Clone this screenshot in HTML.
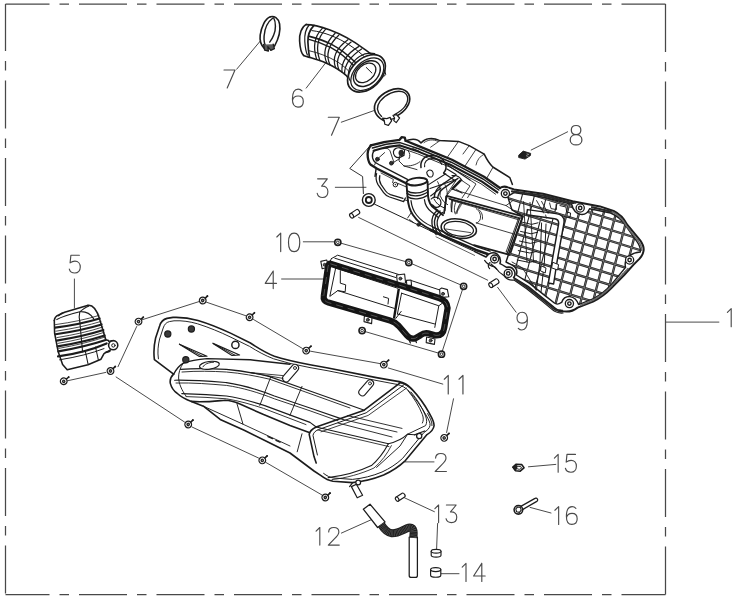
<!DOCTYPE html>
<html><head><meta charset="utf-8"><title>Air cleaner exploded view</title>
<style>
html,body{margin:0;padding:0;background:#fff;}
body{width:748px;height:600px;overflow:hidden;font-family:"Liberation Sans",sans-serif;}
svg{display:block;}
</style></head><body>
<svg width="748" height="600" viewBox="0 0 748 600">
<rect width="748" height="600" fill="#fff"/>
<g fill="none" stroke="#484848" stroke-width="1.25" stroke-dasharray="48 10 9.5 10">
<path d="M5.5 4 H665.5" stroke-dashoffset="4"/>
<path d="M665.5 4 V594.5" stroke-dashoffset="0"/>
<path d="M5.5 594.5 H665.5" stroke-dashoffset="4"/>
<path d="M5.5 4 V594.5" stroke-dashoffset="1"/>
</g>
<g fill="none" stroke="#4a4a4a" stroke-width="1.0" stroke-linecap="round">
<path d="M665.5 322.1 L718.9 322.1"/>
<path d="M405.1 461.9 L434.0 461.9"/>
<path d="M335.3 187.3 L366.0 187.3"/>
<path d="M281.6 279.0 L323.5 279.0"/>
<path d="M74.4 279.0 L74.4 308.0"/>
<path d="M306.2 88.1 L326.3 62.0"/>
<path d="M236.7 69.2 L260.3 41.0"/>
<path d="M341.3 122.2 L374.2 110.5"/>
<path d="M531.2 150.0 L567.6 131.8"/>
<path d="M497.6 287.3 L516.1 312.2"/>
<path d="M303.3 241.8 L334.2 241.8"/>
<path d="M388.3 368.0 L442.8 384.1"/>
<path d="M453.5 398.8 L446.6 432.5"/>
<path d="M341.4 533.1 L372.4 519.2"/>
<path d="M404.5 497.8 L434.4 511.7"/>
<path d="M437.6 523.5 L436.6 549.1"/>
<path d="M440.9 573.7 L459.0 573.7"/>
<path d="M528.5 466.8 L555.8 464.4"/>
<path d="M530.1 507.4 L551.0 513.0"/>
<path d="M358.6 217.4 L487.7 280.2"/>
<path d="M341.0 243.2 L405.6 261.6"/>
<path d="M412.0 263.8 L460.5 284.8"/>
<path d="M462.6 289.2 L442.4 350.8"/>
<path d="M438.2 353.0 L365.2 331.6"/>
<path d="M142.0 319.8 L199.0 301.6"/>
<path d="M206.5 302.2 L246.0 315.8"/>
<path d="M253.5 319.5 L302.5 348.5"/>
<path d="M310.5 351.2 L380.0 363.6"/>
<path d="M136.7 326.5 L118.0 366.7"/>
<path d="M116.1 377.0 L184.5 422.0"/>
<path d="M192.0 427.0 L258.5 458.0"/>
<path d="M266.0 462.5 L322.0 495.0"/>
<path d="M67.4 380.8 L105.8 372.4"/>
</g>
<g fill="none" stroke="#4a4a4a" stroke-width="1.15" stroke-linecap="round" stroke-linejoin="round" vector-effect="non-scaling-stroke">
<path d="M0.5 3.7 L4.3 0 V18" transform="translate(726.9 308.7) scale(1.000 1.000)" />
<path d="M0.4 4.6 C0.4 1.7 2.6 0 5.6 0 C8.8 0 10.8 1.9 10.8 4.6 C10.8 7.1 9.2 8.9 6.2 11.6 L0 18 H11.2" transform="translate(435.2 453.5) scale(1.000 1.000)" />
<path d="M0.4 0 H10.4 L4.6 7.1 C8.4 6.7 11 8.9 11 12.2 C11 15.7 8.8 18 5.5 18 C2.6 18 0.7 16.5 0 14" transform="translate(317.2 178.8) scale(0.973 1.039)" />
<path d="M8.2 0 L0 12.6 H11.6 M8.2 0 V18" transform="translate(265.2 271.0) scale(0.978 0.978)" />
<path d="M10.2 0 H1.6 L0.8 7.8 C2.4 6.5 4 6 5.7 6 C9 6 11.1 8.5 11.1 11.9 C11.1 15.5 8.9 18 5.6 18 C2.7 18 0.7 16.6 0 14" transform="translate(69.3 255.2) scale(0.989 0.989)" />
<path d="M9.8 1.7 C8.7 0.5 7.4 0 6 0 C2.3 0 0.2 3.9 0.2 10 C0.2 15 2.1 18 5.7 18 C8.9 18 11.1 15.7 11.1 12.3 C11.1 9 9 6.9 5.9 6.9 C3 6.9 0.8 8.6 0.3 11.2" transform="translate(292.2 89.1) scale(1.000 1.000)" />
<path d="M0 0 H11 L3.2 18" transform="translate(224.0 70.0) scale(1.000 1.000)" />
<path d="M0 0 H11 L3.2 18" transform="translate(328.3 117.2) scale(1.000 1.000)" />
<path d="M5.6 0 C3 0 1.2 1.8 1.2 4.2 C1.2 6.7 3 8.5 5.6 8.5 C8.2 8.5 10 6.7 10 4.2 C10 1.8 8.2 0 5.6 0 Z M5.6 8.5 C2.4 8.5 0.2 10.5 0.2 13.3 C0.2 16 2.4 18 5.6 18 C8.8 18 11 16 11 13.3 C11 10.5 8.8 8.5 5.6 8.5 Z" transform="translate(570.0 125.5) scale(1.083 1.083)" />
<path d="M1.4 16.3 C2.5 17.5 3.8 18 5.2 18 C8.9 18 11 14.1 11 8 C11 3 9.1 0 5.5 0 C2.3 0 0.1 2.3 0.1 5.7 C0.1 9 2.2 11.1 5.3 11.1 C8.2 11.1 10.4 9.4 10.9 6.8" transform="translate(516.9 312.2) scale(0.955 0.989)" />
<path d="M0.5 3.7 L4.3 0 V18" transform="translate(276.3 233.2) scale(1.022 1.022)" />
<path d="M5.7 0 C2.3 0 0.2 3.6 0.2 9 C0.2 14.4 2.3 18 5.7 18 C9.1 18 11.2 14.4 11.2 9 C11.2 3.6 9.1 0 5.7 0 Z" transform="translate(288.3 233.2) scale(1.022 1.022)" />
<path d="M0.5 3.7 L4.3 0 V18" transform="translate(443.8 375.4) scale(1.033 1.033)" />
<path d="M0.5 3.7 L4.3 0 V18" transform="translate(458.5 375.4) scale(1.033 1.033)" />
<path d="M0.5 3.7 L4.3 0 V18" transform="translate(315.6 527.5) scale(0.978 0.978)" />
<path d="M0.4 4.6 C0.4 1.7 2.6 0 5.6 0 C8.8 0 10.8 1.9 10.8 4.6 C10.8 7.1 9.2 8.9 6.2 11.6 L0 18 H11.2" transform="translate(328.3 527.5) scale(0.978 0.978)" />
<path d="M0.5 3.7 L4.3 0 V18" transform="translate(434.4 505.0) scale(0.978 0.978)" />
<path d="M0.4 0 H10.4 L4.6 7.1 C8.4 6.7 11 8.9 11 12.2 C11 15.7 8.8 18 5.5 18 C2.6 18 0.7 16.5 0 14" transform="translate(446.0 505.0) scale(0.978 0.978)" />
<path d="M0.5 3.7 L4.3 0 V18" transform="translate(461.7 563.4) scale(1.000 1.000)" />
<path d="M8.2 0 L0 12.6 H11.6 M8.2 0 V18" transform="translate(473.6 563.4) scale(1.000 1.000)" />
<path d="M0.5 3.7 L4.3 0 V18" transform="translate(553.9 454.4) scale(0.989 0.989)" />
<path d="M10.2 0 H1.6 L0.8 7.8 C2.4 6.5 4 6 5.7 6 C9 6 11.1 8.5 11.1 11.9 C11.1 15.5 8.9 18 5.6 18 C2.7 18 0.7 16.6 0 14" transform="translate(565.4 454.4) scale(0.989 0.989)" />
<path d="M0.5 3.7 L4.3 0 V18" transform="translate(554.4 506.6) scale(0.989 0.989)" />
<path d="M9.8 1.7 C8.7 0.5 7.4 0 6 0 C2.3 0 0.2 3.9 0.2 10 C0.2 15 2.1 18 5.7 18 C8.9 18 11.1 15.7 11.1 12.3 C11.1 9 9 6.9 5.9 6.9 C3 6.9 0.8 8.6 0.3 11.2" transform="translate(566.2 506.6) scale(0.989 0.989)" />
</g>
<g transform="translate(337.8 242.3)"><circle r="3.1" fill="#fff" stroke="#1c1c1c" stroke-width="1.6"/><circle r="1.3" fill="none" stroke="#1c1c1c" stroke-width="0.9"/></g>
<g transform="translate(408.8 262.5)"><circle r="3.1" fill="#fff" stroke="#1c1c1c" stroke-width="1.6"/><circle r="1.3" fill="none" stroke="#1c1c1c" stroke-width="0.9"/></g>
<g transform="translate(463.6 286.3)"><circle r="3.1" fill="#fff" stroke="#1c1c1c" stroke-width="1.6"/><circle r="1.3" fill="none" stroke="#1c1c1c" stroke-width="0.9"/></g>
<g transform="translate(362.1 330.6)"><circle r="3.1" fill="#fff" stroke="#1c1c1c" stroke-width="1.6"/><circle r="1.3" fill="none" stroke="#1c1c1c" stroke-width="0.9"/></g>
<g transform="translate(441.5 354.2)"><circle r="3.1" fill="#fff" stroke="#1c1c1c" stroke-width="1.6"/><circle r="1.3" fill="none" stroke="#1c1c1c" stroke-width="0.9"/></g>
<g transform="translate(138.5 321.6) rotate(-43)"><path d="M2.5 0 H6.3" stroke="#1c1c1c" stroke-width="1.6" stroke-linecap="round"/><circle cx="6.6" cy="0" r="0.9" fill="#1c1c1c" stroke="none"/><circle r="3.3" fill="#fff" stroke="#1c1c1c" stroke-width="1.3"/><circle r="1.8" fill="#262626" stroke="none"/><circle r="0.5" fill="#bbb" stroke="none"/></g>
<g transform="translate(202.7 300.5) rotate(-43)"><path d="M2.5 0 H6.3" stroke="#1c1c1c" stroke-width="1.6" stroke-linecap="round"/><circle cx="6.6" cy="0" r="0.9" fill="#1c1c1c" stroke="none"/><circle r="3.3" fill="#fff" stroke="#1c1c1c" stroke-width="1.3"/><circle r="1.8" fill="#262626" stroke="none"/><circle r="0.5" fill="#bbb" stroke="none"/></g>
<g transform="translate(249.6 317.3) rotate(-43)"><path d="M2.5 0 H6.3" stroke="#1c1c1c" stroke-width="1.6" stroke-linecap="round"/><circle cx="6.6" cy="0" r="0.9" fill="#1c1c1c" stroke="none"/><circle r="3.3" fill="#fff" stroke="#1c1c1c" stroke-width="1.3"/><circle r="1.8" fill="#262626" stroke="none"/><circle r="0.5" fill="#bbb" stroke="none"/></g>
<g transform="translate(306.2 350.6) rotate(-43)"><path d="M2.5 0 H6.3" stroke="#1c1c1c" stroke-width="1.6" stroke-linecap="round"/><circle cx="6.6" cy="0" r="0.9" fill="#1c1c1c" stroke="none"/><circle r="3.3" fill="#fff" stroke="#1c1c1c" stroke-width="1.3"/><circle r="1.8" fill="#262626" stroke="none"/><circle r="0.5" fill="#bbb" stroke="none"/></g>
<g transform="translate(383.8 364.6) rotate(-43)"><path d="M2.5 0 H6.3" stroke="#1c1c1c" stroke-width="1.6" stroke-linecap="round"/><circle cx="6.6" cy="0" r="0.9" fill="#1c1c1c" stroke="none"/><circle r="3.3" fill="#fff" stroke="#1c1c1c" stroke-width="1.3"/><circle r="1.8" fill="#262626" stroke="none"/><circle r="0.5" fill="#bbb" stroke="none"/></g>
<g transform="translate(188.2 424.5) rotate(-43)"><path d="M2.5 0 H6.3" stroke="#1c1c1c" stroke-width="1.6" stroke-linecap="round"/><circle cx="6.6" cy="0" r="0.9" fill="#1c1c1c" stroke="none"/><circle r="3.3" fill="#fff" stroke="#1c1c1c" stroke-width="1.3"/><circle r="1.8" fill="#262626" stroke="none"/><circle r="0.5" fill="#bbb" stroke="none"/></g>
<g transform="translate(262.3 460.4) rotate(-43)"><path d="M2.5 0 H6.3" stroke="#1c1c1c" stroke-width="1.6" stroke-linecap="round"/><circle cx="6.6" cy="0" r="0.9" fill="#1c1c1c" stroke="none"/><circle r="3.3" fill="#fff" stroke="#1c1c1c" stroke-width="1.3"/><circle r="1.8" fill="#262626" stroke="none"/><circle r="0.5" fill="#bbb" stroke="none"/></g>
<g transform="translate(325.3 497.5) rotate(-43)"><path d="M2.5 0 H6.3" stroke="#1c1c1c" stroke-width="1.6" stroke-linecap="round"/><circle cx="6.6" cy="0" r="0.9" fill="#1c1c1c" stroke="none"/><circle r="3.3" fill="#fff" stroke="#1c1c1c" stroke-width="1.3"/><circle r="1.8" fill="#262626" stroke="none"/><circle r="0.5" fill="#bbb" stroke="none"/></g>
<g transform="translate(444.2 437.9) rotate(-43)"><path d="M2.5 0 H6.3" stroke="#1c1c1c" stroke-width="1.6" stroke-linecap="round"/><circle cx="6.6" cy="0" r="0.9" fill="#1c1c1c" stroke="none"/><circle r="3.3" fill="#fff" stroke="#1c1c1c" stroke-width="1.3"/><circle r="1.8" fill="#262626" stroke="none"/><circle r="0.5" fill="#bbb" stroke="none"/></g>
<g transform="translate(110.5 371.0) rotate(-43)"><path d="M2.5 0 H6.3" stroke="#1c1c1c" stroke-width="1.6" stroke-linecap="round"/><circle cx="6.6" cy="0" r="0.9" fill="#1c1c1c" stroke="none"/><circle r="3.3" fill="#fff" stroke="#1c1c1c" stroke-width="1.3"/><circle r="1.8" fill="#262626" stroke="none"/><circle r="0.5" fill="#bbb" stroke="none"/></g>
<g transform="translate(63.7 381.3) rotate(-40)"><path d="M2.5 0 H6.3" stroke="#1c1c1c" stroke-width="1.6" stroke-linecap="round"/><circle cx="6.6" cy="0" r="0.9" fill="#1c1c1c" stroke="none"/><circle r="3.3" fill="#fff" stroke="#1c1c1c" stroke-width="1.3"/><circle r="1.8" fill="#262626" stroke="none"/><circle r="0.5" fill="#bbb" stroke="none"/></g>
<g fill="none" stroke="#1c1c1c" stroke-linecap="round" stroke-linejoin="round" stroke-width="1.45">
<path d="M270.4 16.8 C265 18.6 261.4 27 260.2 35 C259.6 40 260.6 44.6 264.1 48.1" stroke-width="1.6"/>
<path d="M272.9 18 C268 21.6 264.6 29 264.1 36 C263.8 40.6 264.4 44 265.7 46.1"/>
<path d="M270.4 16.8 C274 15.6 278.4 18 279.6 24 C280.6 30 279 38 274.5 46.1" stroke-width="1.6"/>
<path d="M273.7 18 C276 22 276 30 273.7 35 C272.6 38 271.4 40 269.7 42.1"/>
<path d="M263.6 44.5 L264.6 50.2 L268.4 51.2 L267.8 46.6 L270.8 50.4 L274.4 48.6 L273.2 44.2" stroke-width="1.3" fill="#5a5a5a"/>
</g>
<g fill="none" stroke="#1c1c1c" stroke-linecap="round" stroke-linejoin="round" stroke-width="1.7">
<path d="M383.6 120.6 C375.5 116.5 371.5 108.5 376.8 100.6 C382.5 92 394.5 87 402.2 89.2 C410 91.5 412.2 99.6 406.6 107.6 C404.5 110.8 401 113.6 396.6 116"/>
<path d="M381.6 116.4 C376.6 112 376.2 106.6 380.2 101.2 C385.6 94 395.6 90 402 91.6 C408 93.2 409.6 99.6 405.2 106 C403.4 108.8 400 111.6 394.6 114.6" stroke-width="1.35"/>
<path d="M382.4 118.2 L386.8 118.6 L390.2 117.4 L391.6 120.8 L388.4 125.4 L384.8 124.2 L384.2 120.2 Z" fill="#fff" stroke-width="1.2"/>
<path d="M393 115.4 L396.4 114.6 L399.6 118 L396.2 122.6 L393.8 120.6 L394.6 118 Z" fill="#fff" stroke-width="1.2"/>
<path d="M390.8 119.4 L393.8 118.6" stroke-width="1.1"/>
</g>
<g fill="none" stroke="#1c1c1c" stroke-linecap="round" stroke-linejoin="round" stroke-width="1.2">
<path d="M306.2 24.6 C312 24.6 320 26.4 330 30 C342 34.4 354 41.4 364 48.8 C368 51.8 371.5 54.2 374.6 56.6" stroke-width="1.6"/>
<path d="M303.6 55.4 C309 57.4 318 59.6 326 63 C334 66.4 341 71 346.4 75.6 L349.6 80.4" stroke-width="1.6"/>
<path d="M306.2 24.4 C301.5 27 299.2 34 299.6 41 C300 48 301.5 53.5 303.6 55.4" stroke-width="1.6"/>
<path d="M309.2 25 C305.5 29 304.4 35 304.8 41.5 C305.2 47.6 306.2 52.4 307.4 55" stroke-width="1.2"/>
<path d="M314 25.4 C309.6 30 307.6 36 307.9 42 C308.2 48.6 308.8 53.4 309.4 57" stroke-width="1.7"/>
<path d="M322.3 28.4 Q310.5 40.3 316.7 59.4" stroke-width="1.25"/>
<path d="M325.5 29.4 Q313.3 42.4 319.9 60.6" stroke-width="1.25"/>
<path d="M335.1 33.2 Q319.9 48.6 327.1 63.6" stroke-width="1.25"/>
<path d="M338.7 35.2 Q322.9 50.0 330.2 65.2" stroke-width="1.25"/>
<path d="M347.9 39.7 Q330.0 52.8 335.6 67.8" stroke-width="1.25"/>
<path d="M351.1 42.1 Q333.2 55.6 338.8 69.6" stroke-width="1.25"/>
<path d="M358.6 46.6 Q340.5 57.5 342.0 72.0" stroke-width="1.25"/>
<path d="M361.6 49.0 Q344.1 60.4 344.6 74.2" stroke-width="1.25"/>
<path d="M309.4 36.4 C318 38.6 325 41 332 44.6 C340 48.8 348 55 356 63" stroke-width="1.6"/>
<path d="M309 39.4 C317 41.4 324 44 331 47.6 C339 52 346.5 58 353.6 65.6" stroke-width="1.4"/>
<path d="M312 30.6 C324 32 338 37.4 350 45.4 C356 49.4 361 53.4 365 57.4" stroke-width="1.0"/>
<path d="M308.6 50.6 C318 52.6 328 56.4 337 61.6 C341 64 345 67.2 348 70.4" stroke-width="0.9"/>
<ellipse cx="366.4" cy="73.8" rx="22" ry="14.9" transform="rotate(-44 365.9 73.5)" fill="#fff" stroke-width="1.7"/>
<path d="M349.8 80.2 C346 72 350.5 62.5 359.5 56.5 C364 53.6 369.4 52.4 374.8 53.6" stroke-width="1.1"/>
<ellipse cx="367.3" cy="74.2" rx="19.4" ry="12.7" transform="rotate(-44 367.3 74.2)" stroke-width="1.25"/>
<ellipse cx="366.9" cy="73.6" rx="15.3" ry="10.6" transform="rotate(-42 366.9 73.6)" stroke-width="1.45"/>
<ellipse cx="365.7" cy="72.9" rx="11.7" ry="7.9" transform="rotate(-42 365.7 72.9)" stroke-width="1.2"/>
<path d="M366.3 67.5 L371.9 73" stroke-width="1.0"/>
<path d="M383.6 76.6 L385.8 74.6 L384.6 70.2" stroke-width="1.0"/>
</g>
<g fill="none" stroke="#1c1c1c" stroke-linecap="round" stroke-linejoin="round" stroke-width="1.2">
<path d="M54.3 320.5 C54.6 317.5 56 316 58.6 315 L64.6 312.2 L87.4 305.4 C90 304.8 92.2 305.6 94.6 308.4 C97 311.4 98.4 314.8 99.4 318.4 L105.8 339.8 L108.4 340.6" stroke-width="1.6"/>
<path d="M54.3 320.5 L54.6 333 L58.2 351.8 L62.6 364.6 L67.2 369.8 L88 364.8 L101 359.2 L104 353.6 L110.4 350" stroke-width="1.55"/>
<circle cx="113.2" cy="345.2" r="4.6" fill="#fff" stroke-width="1.55"/><circle cx="113.4" cy="345.4" r="1.7" stroke-width="1.0"/>
<path d="M108.6 341.4 L112.4 340.6 M106.4 352.2 L110 351.4" stroke-width="1.2"/>
<path d="M58.6 315.8 L62.4 312.8 M56.8 319.6 C62 316.6 70 314.2 79.8 311.8 C83 309 86 307 88.6 306.2 M79.8 311.8 C79 315 79 318 79.8 321.6 M80.4 311.6 C85 311.4 90.5 313.6 93.6 318.6" stroke-width="1.1"/>
<path d="M55.2 327.6 Q81.0 324.1 99.6 318.4" stroke-width="2.1"/>
<path d="M55.5 324.6 Q81.0 321.1 99.0 315.4" stroke-width="0.8"/>
<path d="M55.6 334.2 Q82.3 330.3 101.6 324.4" stroke-width="2.1"/>
<path d="M55.9 331.2 Q82.3 327.3 101.0 321.4" stroke-width="0.8"/>
<path d="M56.6 340.6 Q83.7 336.3 103.4 330.0" stroke-width="2.1"/>
<path d="M56.9 337.6 Q83.7 333.3 102.8 327.0" stroke-width="0.8"/>
<path d="M57.6 346.4 Q84.9 341.8 104.6 335.4" stroke-width="2.1"/>
<path d="M57.9 343.4 Q84.9 338.8 104.0 332.4" stroke-width="0.8"/>
<path d="M58.4 351.4 Q85.8 346.6 105.6 340.0" stroke-width="2.1"/>
<path d="M58.7 348.4 Q85.8 343.6 105.0 337.0" stroke-width="0.8"/>
<path d="M58 356.4 Q86 352.4 106.6 343.4" stroke-width="2.2"/>
<path d="M59.6 359.8 Q86 355.6 104 348.6" stroke-width="1.0"/>
<path d="M85.2 350.6 L88 363.8 M95.5 347 L98.3 359.6 M79.8 321.6 L82.6 352" stroke-width="1.05"/>
<path d="M105.2 352.4 L109 351.6" stroke-width="1.2"/>
</g>
<g fill="none" stroke="#1c1c1c" stroke-linecap="round" stroke-linejoin="round" stroke-width="1.15">
<g transform="translate(354.6 213.8) rotate(-33)"><path d="M-3.6 -2.5 H3.8 A1.6 2.5 0 0 1 3.8 2.5 H-3.6" fill="#fff"/><ellipse cx="-3.6" cy="0" rx="1.7" ry="2.5" fill="#fff"/></g>
<g transform="translate(493.8 283.2) rotate(-33)"><path d="M-3.6 -2.5 H3.8 A1.6 2.5 0 0 1 3.8 2.5 H-3.6" fill="#fff"/><ellipse cx="-3.6" cy="0" rx="1.7" ry="2.5" fill="#fff"/></g>
<g transform="translate(400.2 497.2) rotate(-33)"><path d="M-3.6 -2.3 H3.8 A1.4 2.3 0 0 1 3.8 2.3 H-3.6" fill="#fff"/><ellipse cx="-3.6" cy="0" rx="1.5" ry="2.3" fill="#fff"/></g>
<path d="M518.9 155 L523.2 151.1 L530.7 153.4 L530.4 155.6 L525 159.1 L519 157.6 Z" fill="#1e1e1e" stroke-width="0.9"/>
<path d="M527 154 L528.6 154.4 M526.4 155.8 L527.8 156.2" stroke="#ccc" stroke-width="0.7"/>
<path d="M431.2 551.2 V555.2 A4.9 1.9 0 0 0 441 555.2 V551.2" fill="#fff"/><ellipse cx="436.1" cy="551.2" rx="4.9" ry="1.9" fill="#fff"/>
<path d="M430.6 569.6 V575.2 A5.1 2 0 0 0 440.8 575.2 V569.6" fill="#fff"/><ellipse cx="435.7" cy="569.6" rx="5.1" ry="2" fill="#fff"/>
<path d="M512.8 467 L516.2 464.2 L521.8 464.6 L524 467.8 L520.2 471.2 L515.6 470.8 Z" fill="#fff" stroke-width="1.6"/>
<path d="M517.2 466.2 L520.8 466.6 L521.6 468.2 L519.2 469.4 L516.8 468.6 Z" stroke-width="0.9"/>
<path d="M513 467 L516.2 464.6 L517 466.4 L516.6 469 L515.4 470.4 Z" fill="#222" stroke-width="0.8"/>
<path d="M520.8 506.4 L535 498.4 A1.7 1.7 0 0 1 536.8 501.4 L522.6 509.6" fill="#fff" stroke-width="1.25"/>
<circle cx="518.4" cy="509.8" r="4.3" fill="#fff" stroke-width="1.55"/><path d="M515.8 508.8 L517.6 507 L520.4 507.4 L521.2 510.2 L519.4 512.4 L516.6 511.8 Z" stroke-width="1.1"/>
<path d="M363.3 509.2 L370 504.2 L385 521.9 L377.6 527.5 Z" fill="#fff" stroke-width="1.25"/>
<path d="M409.2 537 V575.4 Q409.2 577.4 411.2 577.4 H415.4 Q417.4 577.4 417.4 575.4 V537" fill="#fff" stroke-width="1.25"/>
<path d="M381.2 524.6 C384 529 387 532.6 391.7 533.2 C396 533.6 400 531.6 403.3 530 C406.6 528.4 410 526.4 412.4 528.6 C414.4 530.6 413.5 534 413.3 538" stroke="#1f1f1f" stroke-width="8.2" stroke-linecap="butt"/>
<path d="M381.2 524.6 C384 529 387 532.6 391.7 533.2 C396 533.6 400 531.6 403.3 530 C406.6 528.4 410 526.4 412.4 528.6 C414.4 530.6 413.5 534 413.3 538" stroke="#777" stroke-width="6.2" stroke-linecap="butt" stroke-dasharray="0.35 1.15"/>
<path d="M351.4 486.6 L356.4 484.2 L362.6 495.2 L357.2 497.8 Z" fill="#fff" stroke-width="1.2"/>
</g>
<g fill="none" stroke="#1c1c1c" stroke-linecap="round" stroke-linejoin="round" stroke-width="1.0">
<path d="M331.4 258.6 L337.6 255.2 L399 274.6 M334.8 258.2 L396 277.6 M331.4 258.6 L329.8 262" />
<path d="M411.4 280.6 L440.4 290.2" />
<path d="M335.6 268.4 L329.8 296.4 L337.8 290.6 L394.4 308.4 M340.3 270.6 L340.3 283.2 L345.7 284.8 L345.2 291.8 L337.8 290.6 M334.8 267.8 L397.6 288.2"/>
<path d="M383.4 296.8 L388.6 298.4 L388 304 "/>
<path d="M401.6 293.2 L438.8 305.8 L434.8 327.4 M397.4 314 L434.8 324 M401.6 293.2 L397.4 314 M438.8 305.8 L442.6 303"/>
<path d="M395.8 318.4 L401.2 311.4" />
<path d="M320.8 261.4 L326.8 260.0 L328.4 267.0 L322.2 268.8 Z" fill="#fff" stroke-width="1.1"/>
<circle cx="324.7" cy="264.8" r="1.5" fill="#555" stroke-width="0.8"/>
<path d="M396.6 275.0 L404.6 274.0 L405.6 283.0 L397.4 283.6 Z" fill="#fff" stroke-width="1.1"/>
<circle cx="400.4" cy="278.6" r="1.5" fill="#555" stroke-width="0.8"/>
<path d="M406.4 280.4 L411.0 280.0 L411.6 285.4 L406.8 285.0 Z" fill="#fff" stroke-width="1.1"/>
<path d="M439.6 289.4 L441.6 288.0 L447.4 289.6 L448.8 296.8 L440.2 297.6 Z" fill="#fff" stroke-width="1.1"/>
<circle cx="443" cy="293.8" r="1.5" fill="#555" stroke-width="0.8"/>
<path d="M364.4 315.6 L372.0 317.8 L371.6 323.6 L364.0 321.6 Z" fill="#fff" stroke-width="1.1"/>
<circle cx="367.8" cy="319.8" r="1.5" fill="#555" stroke-width="0.8"/>
<path d="M426.6 337.0 L435.0 339.0 L434.4 344.4 L426.2 342.6 Z" fill="#fff" stroke-width="1.1"/>
<circle cx="430.6" cy="340.6" r="1.5" fill="#555" stroke-width="0.8"/>
<path d="M409 339.6 L410.4 343 M415 339.2 L416.4 342.6" stroke-width="1.2"/>
</g>
<path d="M330.4 263.8 L397 284.4 L439 298 Q447.2 300.8 447.6 308 L444.2 328 Q443 335.8 436 335.4 L428 333.2 Q424 332.4 420.6 335.2 L415.4 338.2 Q410.6 339.8 407 335.6 L398.8 326 Q395 322 390 320.6 L328.4 302.6 Q322.8 300.8 323.8 295.6 L327.8 268 Q328.6 262.8 330.4 263.8 Z" fill="none" stroke="#151515" stroke-width="6.2" stroke-linejoin="round"/>
<path d="M330.4 263.8 L397 284.4 L439 298 Q447.2 300.8 447.6 308 L444.2 328 Q443 335.8 436 335.4 L428 333.2 Q424 332.4 420.6 335.2 L415.4 338.2 Q410.6 339.8 407 335.6 L398.8 326 Q395 322 390 320.6 L328.4 302.6 Q322.8 300.8 323.8 295.6 L327.8 268 Q328.6 262.8 330.4 263.8 Z" fill="none" stroke="#777" stroke-width="0.6" stroke-linejoin="round" stroke-dasharray="7 5"/>
<path d="M398.8 288.6 L394 318.6" fill="none" stroke="#151515" stroke-width="2.4"/>
<g fill="none" stroke="#1c1c1c" stroke-linecap="round" stroke-linejoin="round" stroke-width="1.25">
<path d="M173.6 374.2 L154.4 359.6 C153.4 352 154 345 155.6 338 L159.6 326 C160.8 322 163 319.4 167 318.4 L173 317.4 C182 317 190 318.2 198 320.4 C210 324 221 328.6 231 333.4 L250.4 343 C258 348 266 353 274.4 356.2 C286 360 298 362.4 310 364.8 L328 368 L376.4 377.6 L399 381.6" stroke-width="1.6"/>
<path d="M158.4 358.8 C157.4 352 158 345.6 159.6 339 L163.2 328 C164.4 324.6 166 322.4 169.4 321.6 L174 320.8 C182 320.4 190 321.6 197.6 323.8 C209 327.4 220 332 230 336.8 L249.6 346.4 C257 351 265 355.6 273.6 358.8 L290 363.4" stroke-width="0.95"/>
<path d="M290 363.4 L310 367.6 L328 370.8 L376 380.4 L397 384.4" stroke-width="0.95"/>
<path d="M399 381.6 C404 382.6 408 385 411.4 388.6 C418 395.6 424 403.6 429 412.6 C432 418 434.6 422 434 426 C433.4 430 430.6 432.4 427 434.6 L405.4 460.6 C399 466.6 391.6 471.4 383.6 475 C373.6 479 363 481.6 352.4 482.6 L333 481.2 C328.8 480.6 325 478.6 321 475.6 L314 471 L290 453 L268.4 442.2 L244.2 430.2 L220.2 419.4 L203.4 406.2 L191.4 401.4" stroke-width="1.6"/>
<path d="M397 384.4 C402 385.4 406 388 409 391.2 C415 398 421 406 426 415 C428.6 419.6 430.6 423 430 425.6 C429.4 428.6 427 430.6 424 432.4 L402.6 458.4 C396.6 464 389.6 468.6 382 472 C372.6 476 362.6 478.4 352.4 479.4 L334 478 C330 477.6 327 476 323.6 473.4" stroke-width="1.0"/>
<path d="M400.6 383 C405 384 408.6 386.6 412 390 M427.6 413.6 C430 418 432.4 422 432 425.6" stroke-width="0.95"/>
<path d="M173.6 374.2 C170.6 377 169.6 380 170.4 383.6 C171.6 388 174 391 176.8 393 C181 397 186 399.6 191.4 401.4 C203 402.6 214 401.2 225 400.2 C230 400.2 235 401.8 239.4 403.8 L263.6 414.6 L290 425.4 L309.2 432.6" stroke-width="1.6"/>
<path d="M173.6 374.2 C176 369.6 179 365.8 183 363.4 C190 360.6 198 359.2 207 358.6 L250.4 359.8 L290 364.2" stroke-width="1.4"/>
<path d="M183 363.4 C180 368 178.4 373 178.6 378 C179 384 181.6 390 186 396" stroke-width="0.95"/>
<path d="M180.6 369.4 C196 368.2 211 368.6 226.4 369.4 C241 370.6 256 373.4 269.6 376.6 L310 391 L364.4 410.2" stroke-width="1.15"/>
<path d="M182 372 C197 370.8 212 371.2 226.4 372 C241 373.2 256 376 269.6 379.2 L310 393.6 L350 408" stroke-width="0.9"/>
<path d="M174.6 380.2 C192 379.8 209 381.2 226.4 382.6 C243 385 259 390 274.4 396 L310 408 L343 419.4" stroke-width="1.15"/>
<path d="M176 383 C193 382.6 210 384 226.4 385.4 C243 387.8 259 392.8 274.4 398.8 L310 410.8 L338 420.8" stroke-width="0.9"/>
<path d="M181.8 393.6 C196 394 211 394.6 226.4 396 C240 398 252 401.6 264.8 405.6 L310 422.4 L316.2 427" stroke-width="1.15"/>
<path d="M186 396.6 C199 397 213 397.6 226.4 398.8 C239 400.8 251 404.4 263.6 408.4 L306 424.6" stroke-width="0.9"/>
<path d="M270.8 376.8 L259.8 405.4 M302 386.4 L290 415.2 M237 403.8 L243 424.2 L203.4 406.2 M302 433.8 L297.2 451.8" stroke-width="0.95"/>
<path d="M243 424.2 L290 446" stroke-width="0.9"/>
<path d="M268 436.6 L272.6 438.6 M276 440.4 L280 442.2" stroke-width="1.4"/>
<circle cx="167.8" cy="334" r="3.1" fill="#3a3a3a" stroke-width="1.15"/>
<circle cx="191.4" cy="329" r="3.1" fill="#3a3a3a" stroke-width="1.15"/>
<circle cx="185.8" cy="359.8" r="3.1" fill="#3a3a3a" stroke-width="1.15"/>
<circle cx="235.4" cy="344.9" r="3.6" fill="#fff" stroke-width="1.45"/>
<path d="M179.4 344.2 L207 356.2 L199.4 356.4 Z M213 343.4 L239.6 355 L232 355.4 Z" fill="#fff" stroke-width="1.15"/>
<path d="M179.4 344.2 L202.6 356.4 M213 343.4 L235 355.2" stroke-width="0.95"/>
<ellipse cx="209.4" cy="365.3" rx="10" ry="3.8" transform="rotate(-8 209.4 365.3)" fill="#fff" stroke-width="1.15"/>
<path d="M203 366.8 C204.6 364 208 362.6 213.6 362.2" stroke-width="0.95"/>
<path d="M295 368 L286.2 378.2" stroke="#1c1c1c" stroke-width="8.2" stroke-linecap="round"/>
<path d="M295 368 L286.2 378.2" stroke="#fff" stroke-width="6.0" stroke-linecap="round"/>
<circle cx="295" cy="368" r="1.5" fill="#fff" stroke-width="0.9"/>
<path d="M370 383.4 L362.4 392.2" stroke="#1c1c1c" stroke-width="8.2" stroke-linecap="round"/>
<path d="M370 383.4 L362.4 392.2" stroke="#fff" stroke-width="6.0" stroke-linecap="round"/>
<circle cx="370" cy="383.4" r="1.5" fill="#fff" stroke-width="0.9"/>
<path d="M250.6 372.6 L283 375.6 M250.6 372.6 L283 378.4" stroke-width="0.85"/>
<path d="M400.4 382.6 L364.2 410.2 L316.2 427 C312 429 309.6 431.6 309.2 434.4 L314 456.6 L316.2 463" stroke-width="1.6"/>
<path d="M403.6 385 L366.2 412.8 L318.4 429.6 C315 431 313.2 433.2 313 435.6 L317.4 455" stroke-width="1.0"/>
<path d="M406.6 388 L368.2 415.4 L321 431.8" stroke-width="0.85"/>
<path d="M316.2 427 L388.4 443.8 C396 442 403 438.6 407.6 434.2 L414.4 434.8" stroke-width="1.15"/>
<path d="M318 430 L389 446.6" stroke-width="0.85"/>
<path d="M388.4 443.8 C384 452 378.6 459.6 371.4 465.6 C358 472 343 476 328.2 477.6" stroke-width="1.15"/>
<path d="M391.4 445.6 C387 454 381.6 461.6 374 468 C361 474 346 478 332 479.6" stroke-width="0.85"/>
<path d="M343.4 419.6 L397 432 M347.6 415.6 L402 428.4 M338 423 L392 437" stroke-width="0.9"/>
<path d="M411 392 C417 399 422 407 425.6 416 C427 420 427 423 425.6 425.6 L407.6 434.2 M408 390.6 C414 398 419 406 422.4 414.6 C423.6 418 423.6 420.6 422.4 423" stroke-width="0.95"/>
<path d="M407.6 434.2 L400 446 L376.6 467.4" stroke-width="0.95"/>
<circle cx="419.2" cy="436" r="2.6" fill="#fff" stroke-width="1.25"/><path d="M414.6 434.8 L424.6 431" stroke-width="1.25"/>
<circle cx="358.2" cy="482.4" r="2.4" fill="#fff" stroke-width="1.25"/><path d="M352.6 482.6 L349.6 486.6" stroke-width="1.25"/>
</g>
<g fill="none" stroke="#1c1c1c" stroke-linecap="round" stroke-linejoin="round" stroke-width="1.1">
<path d="M370.7 145.2 L349.8 168.5 L362.6 176.5 L363.4 193.6" stroke-width="0.9"/>
<circle cx="368.8" cy="200" r="6.4" fill="#fff" stroke-width="1.4"/><circle cx="368.8" cy="200" r="3.0" fill="#fff" stroke-width="1.8"/>
<path d="M405.2 141 C412 138.4 418 139 421 143 C425 138.4 432 137.2 439.4 140.4 L458.5 141.4 L469.2 145.6 L484.2 154.2 C487 160 489.6 164 492.8 167 L509.8 177.6 L512.4 184.4" stroke-width="1.5"/>
<path d="M424 142.6 C428 139.6 433 139 438 141.4 M440 140.6 L430.6 147.2" stroke-width="0.8"/>
<path d="M458.5 141.4 L447.8 156.6 M475.6 150 L465 166 M492.8 167.6 L486.4 178.8 M469.2 145.6 L463 154" stroke-width="0.85"/>
<path d="M484.2 154.2 C480 156 477 160 476 165" stroke-width="0.8"/>
<path d="M370.8 145.4 C380 142.6 391 140.6 399.6 139.8 L401.6 137.2 L404.8 137.6 L405.6 140.8 L420 146.6 L452 159.8 L484 176.8 L500 188" stroke-width="2.3"/>
<path d="M372.4 148 C381 145.2 391 143.2 400 142.6 L419.2 149 L451.2 162.2 L483 179 L498.8 190" stroke-width="1.5"/>
<path d="M373.6 150.8 C382 148 391 146 400 145.4 L418.4 151.6 L450.4 164.8 L482 181.6 L497.4 192.4" stroke-width="2.1"/>
<path d="M399 147.4 L417.6 153.8 L449.6 167 L481 183.8 L495.6 194.2" stroke-width="0.9"/>
<path d="M370.8 145.4 C368 149 367.2 153.4 367.8 157.4 C368.4 161 369.4 163.6 370.8 164.8 L377.2 168.8 L406 183.2" stroke-width="2.3"/>
<path d="M374.2 150.4 C372.4 153 372 155.6 372.6 158 C373.2 160.2 374 161.4 375 162.2 L380 165.2 L407.4 179.4" stroke-width="1.3"/>
<circle cx="377.4" cy="159.2" r="1.9" fill="#2a2a2a" stroke-width="0.9"/><circle cx="391.4" cy="163.2" r="1.9" fill="#333" stroke-width="0.9"/>
<path d="M379 157.6 L384.6 152.6 M384 148.6 C387 147.6 389.6 149 390.4 152 L393.8 162 M393.6 162.4 L399.6 158.6 M376 161.6 L374.6 165" stroke-width="0.9"/>
<path d="M393.4 151.6 C394 148.6 397 147.2 400 148 L404.6 149.8 L404 155.4 L399.4 157.6 C396 158 393 155.6 393.4 151.6 Z" fill="#fff" stroke-width="1.2"/><ellipse cx="401.2" cy="153" rx="2.3" ry="2.9" fill="#2a2a2a" stroke-width="0.8"/>
<path d="M399.4 156 L399 161 L404 166 L417 169.6 M404 166 C410 166.4 416 165 420 161.6" stroke-width="0.9"/>
<path d="M408 150.6 C410 153 410.4 156 409 158.6 M412.6 148.4 L420 151.6" stroke-width="0.9"/>
<path d="M376.6 173.6 C375.6 177 376 181 378 184.6 L383.6 192.6 C385 194.6 387 196 389.6 197 L403.6 201.6 L405.4 198 M379.8 175.6 C379 178.6 379.4 181.6 381 184.4 L385.6 191 C386.8 192.8 388.4 193.8 390.4 194.6 L403 198.4" stroke-width="1.25"/>
<path d="M376 169.4 L375 176.4" stroke-width="1.4"/>
<circle cx="395.4" cy="184.6" r="2.3" fill="#fff" stroke-width="1.0"/><circle cx="395.4" cy="184.6" r="0.8" fill="#333" stroke="none"/>
<path d="M381 173 L393.4 179.4 L392.6 182.6 M398 183.4 L406 186.8" stroke-width="0.85"/>
<path d="M421 167.6 C420 161 424 156 431 155.6 C438 155.4 443 158.6 445 163 C446.6 166.6 446 170.6 443.6 173" stroke-width="1.5"/>
<path d="M424.6 166.6 C424 162 427 158.8 432 158.6 C437 158.6 440.6 161 441.8 164.4" stroke-width="1.2"/>
<path d="M446 164 L470 180 M443.6 173 L455.6 181 M452 175.6 C456 175 460 177 462 180.6 M447 169 L456 174.6" stroke-width="1.15"/>
<path d="M437.6 181.6 C440 186 441 191 440 196 M444 183 C447 188 448 193 446.6 197.6 M455.6 181 L447 194" stroke-width="0.85"/>
<path d="M462 180.6 L470 186 L462 198 M470 180 L476 184 L467.6 197.6 M456 189 L462 193" stroke-width="0.85"/>
<path d="M406.4 182.6 L407.6 197.6 C408 204 409.6 210 413 215 C417 221 423 226 431 229.6 L436 231.6 M427.6 181.6 L428 195.6 C428.4 201 430.6 205.6 434.6 208.6 C437.6 210.8 440.6 212.8 443 215.2" fill="#fff" stroke-width="1.9"/>
<path d="M411 200.6 C411.6 206 413.4 211 416.6 215 C420 219.4 425 223.4 431.6 226.2 M424.4 199.6 C425 204.6 427.6 209 431.6 212 C434 213.8 436.4 215.6 438.4 217.6" stroke-width="1.2"/>
<ellipse cx="416.8" cy="181.6" rx="10.4" ry="3.7" transform="rotate(-6 416.8 181.6)" fill="#fff" stroke-width="1.9"/>
<path d="M406.8 190.6 C412 194.4 422 193.6 427.8 189 M407 193.4 C412 197.2 422 196.4 428 191.8 M407.4 196.6 C412 200.2 422 199.4 428 195" stroke-width="1.35"/>
<path d="M428.6 184.6 L445.8 173.8 M430 188.6 L456.4 179.4 M430.6 196 L441 188 M452.6 188.4 L460.6 180.4" stroke-width="1.1"/>
<path d="M452.6 188.6 L460.4 180.6" stroke-width="2.4"/>
<path d="M434 199 C436 203 439 206 443.6 207.6 M440.6 196.6 C442 200 444 202.6 447.6 204.6 M430.4 204 C434 204.6 436 207 436.4 210" stroke-width="1.0"/>
<path d="M408.6 183.6 C412 186.4 421 186 425.6 182.8" stroke-width="0.7"/>
<path d="M408.6 201 L405 200 M411 213 L407.6 218 M409.6 219.6 L413.6 222.6" stroke-width="0.9"/>
<circle cx="418.6" cy="224.6" r="1.7" fill="#333" stroke-width="0.8"/>
<path d="M434.2 197.4 C434.6 192.4 436.6 188.6 440.6 185.6 L455.6 175.2 M437.6 198.6 C438 194.2 439.8 191 443.4 188.4 L458 178.4" stroke-width="1.35"/>
<path d="M431.2 199 C433 196.6 436.6 196.4 439 198.4 C441.4 200.6 441.6 204 439.6 206.2 C437.6 208 434.4 207.8 432.4 205.8" stroke-width="1.2"/>
<path d="M446 196.4 L444.9 210.4 M452.4 199.6 L451.4 211.4" stroke-width="1.3"/>
<path d="M462 202.8 L455.6 213.5" stroke="#777" stroke-width="1.8"/>
<path d="M426.7 172.4 C427.4 170 430 169.4 432 170.8 C433.6 172.2 433.6 175 432 176.6 C430 177.8 427 176.4 426.7 172.4 Z" stroke-width="1.1"/>
<path d="M437.6 210 C433 214 431.4 219 432 224 C432.6 228.6 434 232 436.2 234.6 M440 211 C435.6 215 434 219.6 434.6 224.4 C435.2 228.6 436.6 232 438.6 234.2 M442.4 212.4 C438.2 216.2 436.6 220.4 437.2 224.8 C437.8 228.6 439 231.4 441 233.6" stroke-width="1.35"/>
<ellipse cx="458.8" cy="228.6" rx="17.8" ry="9.5" transform="rotate(9 458.8 228.6)" fill="#fff" stroke-width="1.6"/>
<ellipse cx="458.8" cy="228.8" rx="14.8" ry="7.2" transform="rotate(9 458.8 228.8)" stroke-width="1.2"/>
<path d="M446 229 L470.6 232.6" stroke-width="0.8"/>
<path d="M444 213.4 L446.6 195.8 L522.8 216.4 L509.8 255 L474 245.2" stroke-width="1.8"/>
<path d="M449.4 199 L519.6 218.6 L507.4 253" stroke-width="1.3"/>
<path d="M451.4 200.4 L518 219.6 L506.2 251.6 M448.6 198.2 L520.4 218 M476.2 222.9 L514.6 234.2 M518 219.6 L522.8 216.4 M506.2 251.6 L509.8 255" stroke-width="0.85"/>
<path d="M451.4 201.6 C450.6 205 450.8 208.6 452 212 M460 203.8 C458 207 457 210 457 213.4 M455.6 202.6 C454.2 206 454 209.6 454.8 213" stroke-width="0.85"/>
<path d="M476.2 208.6 C479.6 211 481 214.6 480.4 218.6 C479.8 221 478.4 222.4 476.4 223 M478.6 209.4 C481.8 212 483 215.4 482.4 219.2" stroke-width="0.9"/>
<path d="M446.6 195.8 L452 189 L462 193 M452 189 L506 205.6 L512.4 201 M506 205.6 L522.8 216.4" stroke-width="0.85"/>
<path d="M374.6 204.2 L408.4 220.2 L434.2 232.6 L450 240.2 L474.8 251.6" stroke-width="1.0"/>
<path d="M474.8 251.6 L486 257 C489 252.6 493.6 251.6 497 254 C500 256.4 501 260 500 263.6 C503 265 505 266.4 506.6 267.4 C510 266.6 513 268.2 514.4 271 C515.4 273.4 515 276 513.6 277.6 L528 286.4 L544.2 299.4 L553.8 307.2 C556 309.4 559 310.6 562 310.4" stroke-width="1.6"/>
<path d="M430.6 230 L452 239.6 L476 250 L487.6 254" stroke-width="2.5"/>
<path d="M432.6 227 L452.6 236.2 L477 246.8 L490 251.2" stroke-width="1.4"/>
<path d="M484.6 260.4 C487 264 491 266.4 495 267 C497 270 500 273.4 504 275.6 C506 278.6 510 280.6 514 280 L526.6 288.8 L542.6 301.6 L552 309.4 C555 312 559 313.4 563 313" stroke-width="1.2"/>
<path d="M514.6 278.8 L527.4 287.6 L543.4 300.4 L553 308.2 C556 310.6 559.6 311.8 562.6 311.6" stroke="#2a2a2a" stroke-width="2.0" stroke-dasharray="0.9 1.1"/>
<path d="M436 236.8 L474.6 255.4" stroke-width="0.7"/>
<circle cx="494.6" cy="259.0" r="4.0" fill="#fff" stroke="#1c1c1c" stroke-width="1.3"/><circle cx="494.6" cy="259.0" r="1.7" fill="#fff" stroke="#1c1c1c" stroke-width="1.4"/>
<circle cx="508.2" cy="273.4" r="4.0" fill="#fff" stroke="#1c1c1c" stroke-width="1.3"/><circle cx="508.2" cy="273.4" r="1.7" fill="#fff" stroke="#1c1c1c" stroke-width="1.4"/>
<path d="M491 264 L496.6 269 M490 262.6 C488 264 487.6 266.6 489.6 268.6" stroke-width="1.2"/>
</g>
<clipPath id="cv"><path d="M507.6 196.4 L514 192.6 L544 197.2 L571.6 204.2 C573 209.6 576 213.4 580.6 214.4 C585 215 588 212.6 589.6 208.8 L610.6 213 C617 215.6 622 220 626 226 L637 241.6 C640 246 641 249 640.2 252 C636 252.4 632 253.6 629 256.2 C625.6 259.2 624.6 263.6 625.6 267.4 L611 285 C606 290.6 600 295 593.6 298.6 L578.6 304.6 C577 300 574 297.2 570 296.6 C566 296.4 563 298.6 561.6 302.4 C558 304.6 556.6 304.6 554.4 303 L545 295.6 L529.6 283.4 L516.4 275 C517.6 271 516 267.4 512.6 265.4 L506 262 L510 250 L522.8 216.4 L512 210 Z"/></clipPath>
<g clip-path="url(#cv)">
<path d="M526.2 180.0 L489.8 320.0" stroke="#202020" stroke-width="1.1" fill="none"/>
<path d="M538.5 180.0 L502.1 320.0" stroke="#202020" stroke-width="1.1" fill="none"/>
<path d="M550.8 180.0 L514.4 320.0" stroke="#202020" stroke-width="1.1" fill="none"/>
<path d="M563.1 180.0 L526.7 320.0" stroke="#202020" stroke-width="1.1" fill="none"/>
<path d="M575.4 180.0 L539.0 320.0" stroke="#202020" stroke-width="2.3" fill="none"/>
<path d="M587.7 180.0 L551.3 320.0" stroke="#202020" stroke-width="2.3" fill="none"/>
<path d="M600.0 180.0 L563.6 320.0" stroke="#202020" stroke-width="2.3" fill="none"/>
<path d="M612.3 180.0 L575.9 320.0" stroke="#202020" stroke-width="2.3" fill="none"/>
<path d="M624.6 180.0 L588.2 320.0" stroke="#202020" stroke-width="2.3" fill="none"/>
<path d="M636.9 180.0 L600.5 320.0" stroke="#202020" stroke-width="2.3" fill="none"/>
<path d="M649.2 180.0 L612.8 320.0" stroke="#202020" stroke-width="2.3" fill="none"/>
<path d="M661.5 180.0 L625.1 320.0" stroke="#202020" stroke-width="2.3" fill="none"/>
<path d="M500.0 118.7 L660.0 168.3" stroke="#202020" stroke-width="2.3" fill="none"/>
<path d="M500.0 129.7 L660.0 179.3" stroke="#202020" stroke-width="2.3" fill="none"/>
<path d="M500.0 140.7 L660.0 190.3" stroke="#202020" stroke-width="2.3" fill="none"/>
<path d="M500.0 151.7 L660.0 201.3" stroke="#202020" stroke-width="2.3" fill="none"/>
<path d="M500.0 162.7 L660.0 212.3" stroke="#202020" stroke-width="2.3" fill="none"/>
<path d="M500.0 173.7 L660.0 223.3" stroke="#202020" stroke-width="2.3" fill="none"/>
<path d="M500.0 184.7 L660.0 234.3" stroke="#202020" stroke-width="2.3" fill="none"/>
<path d="M500.0 195.7 L660.0 245.3" stroke="#202020" stroke-width="2.3" fill="none"/>
<path d="M500.0 206.7 L660.0 256.3" stroke="#202020" stroke-width="2.3" fill="none"/>
<path d="M500.0 217.7 L660.0 267.3" stroke="#202020" stroke-width="2.3" fill="none"/>
<path d="M500.0 228.7 L660.0 278.3" stroke="#202020" stroke-width="2.3" fill="none"/>
<path d="M500.0 239.7 L660.0 289.3" stroke="#202020" stroke-width="2.3" fill="none"/>
<path d="M500.0 250.7 L660.0 300.3" stroke="#202020" stroke-width="2.3" fill="none"/>
<path d="M500.0 261.7 L660.0 311.3" stroke="#202020" stroke-width="2.3" fill="none"/>
<path d="M500.0 272.7 L660.0 322.3" stroke="#202020" stroke-width="2.3" fill="none"/>
<path d="M575.4 180.0 L539.0 320.0" stroke="#a8a8a8" stroke-width="0.55" fill="none"/>
<path d="M587.7 180.0 L551.3 320.0" stroke="#a8a8a8" stroke-width="0.55" fill="none"/>
<path d="M600.0 180.0 L563.6 320.0" stroke="#a8a8a8" stroke-width="0.55" fill="none"/>
<path d="M612.3 180.0 L575.9 320.0" stroke="#a8a8a8" stroke-width="0.55" fill="none"/>
<path d="M624.6 180.0 L588.2 320.0" stroke="#a8a8a8" stroke-width="0.55" fill="none"/>
<path d="M636.9 180.0 L600.5 320.0" stroke="#a8a8a8" stroke-width="0.55" fill="none"/>
<path d="M649.2 180.0 L612.8 320.0" stroke="#a8a8a8" stroke-width="0.55" fill="none"/>
<path d="M661.5 180.0 L625.1 320.0" stroke="#a8a8a8" stroke-width="0.55" fill="none"/>
<path d="M500.0 118.7 L660.0 168.3" stroke="#a8a8a8" stroke-width="0.55" fill="none"/>
<path d="M500.0 129.7 L660.0 179.3" stroke="#a8a8a8" stroke-width="0.55" fill="none"/>
<path d="M500.0 140.7 L660.0 190.3" stroke="#a8a8a8" stroke-width="0.55" fill="none"/>
<path d="M500.0 151.7 L660.0 201.3" stroke="#a8a8a8" stroke-width="0.55" fill="none"/>
<path d="M500.0 162.7 L660.0 212.3" stroke="#a8a8a8" stroke-width="0.55" fill="none"/>
<path d="M500.0 173.7 L660.0 223.3" stroke="#a8a8a8" stroke-width="0.55" fill="none"/>
<path d="M500.0 184.7 L660.0 234.3" stroke="#a8a8a8" stroke-width="0.55" fill="none"/>
<path d="M500.0 195.7 L660.0 245.3" stroke="#a8a8a8" stroke-width="0.55" fill="none"/>
<path d="M500.0 206.7 L660.0 256.3" stroke="#a8a8a8" stroke-width="0.55" fill="none"/>
<path d="M500.0 217.7 L660.0 267.3" stroke="#a8a8a8" stroke-width="0.55" fill="none"/>
<path d="M500.0 228.7 L660.0 278.3" stroke="#a8a8a8" stroke-width="0.55" fill="none"/>
<path d="M500.0 239.7 L660.0 289.3" stroke="#a8a8a8" stroke-width="0.55" fill="none"/>
<path d="M500.0 250.7 L660.0 300.3" stroke="#a8a8a8" stroke-width="0.55" fill="none"/>
<path d="M500.0 261.7 L660.0 311.3" stroke="#a8a8a8" stroke-width="0.55" fill="none"/>
<path d="M500.0 272.7 L660.0 322.3" stroke="#a8a8a8" stroke-width="0.55" fill="none"/>
</g>
<g fill="none" stroke="#1c1c1c" stroke-linecap="round" stroke-linejoin="round" stroke-width="1.1">
<path d="M527.4 209.6 L556 213.6 C561.6 214.4 564.6 217.6 564 222.6 L557 262 L553.6 284 L548.4 283 L552 261.6 L558.6 224 C559 220.6 557.6 219.2 554.6 218.8 L526.6 214.8 Z" fill="#fff" stroke-width="1.45"/>
<path d="M545.6 215 L546.4 218 M560 236 L564 236.8" stroke-width="0.8"/>
<path d="M541.6 223 L540 262 L536.4 290 M546 224 L544.4 262 L541 292" fill="none" stroke-width="1.0"/>
<path d="M553 262.4 L558.6 264.6 L557.6 270 L552 268 Z M541.6 266 L546 268 L545.2 273 L540.8 271 Z" fill="#fff" stroke-width="1.0"/>
<path d="M521.6 222 L531.6 224.4 L538.0 222.8" stroke-width="1.0"/>
<path d="M520.5 231.4 L531.0 233.8 L537.6 232.20000000000002" stroke-width="1.0"/>
<path d="M519.4 241 L530.4 243.4 L537.2 241.8" stroke-width="1.0"/>
<path d="M518.3 250.6 L529.8 253.0 L536.8 251.4" stroke-width="1.0"/>
<path d="M517.2 260 L529.2 262.4 L536.4 260.8" stroke-width="1.0"/>
<path d="M523.6 201.6 L527 262 M530 202.4 L533.6 262 M512 262 L522.6 268 L536 290" stroke-width="0.9"/>
<path d="M536.6 200.6 L543.6 213 M541.6 201.4 L548 213.4 M549.6 203 L551 208.6 L556.6 209.6 L556 204.6" stroke-width="0.9"/>
<path d="M560 205.6 L566 207 L566.6 212 L570.6 213 L570 217.6 L564 216.6" stroke-width="1.0"/>
<path d="M500 188 C502 186.6 505 186.2 508 187.4 L514 189.4 L543 193.8 L572.6 201.2 L600 206.4 L613.6 211 C619 213.6 623.6 218 627 224.4 L640.2 240.4 C643 244.4 644.4 248 643.4 251.6 C642.8 254.4 641.4 256.6 639.6 258.6 L633.6 264.6 L624.2 275 L611.4 288 C606 293.6 600 298 593 301.6 L577.6 307.6 C573 311.2 566 312.4 560.2 310.6" stroke-width="2.0"/>
<path d="M507.6 196.4 L514 192.6 L544 197.2 L571.6 204.2 C573 209.6 576 213.4 580.6 214.4 C585 215 588 212.6 589.6 208.8 L610.6 213 C617 215.6 622 220 626 226 L637 241.6 C640 246 641 249 640.2 252 C636 252.4 632 253.6 629 256.2 C625.6 259.2 624.6 263.6 625.6 267.4 L611 285 C606 290.6 600 295 593.6 298.6 L578.6 304.6 C577 300 574 297.2 570 296.6 C566 296.4 563 298.6 561.6 302.4 C558 304.6 556.6 304.6 554.4 303 L545 295.6 L529.6 283.4 L516.4 275 C517.6 271 516 267.4 512.6 265.4 L506 262 L510 250 L522.8 216.4 L512 210 Z" stroke-width="1.45"/>
<path d="M512 191.4 L543.4 195.6 L572 203 L576 202.6 M592 207.2 L612.4 212" stroke="#2a2a2a" stroke-width="2.2" stroke-dasharray="0.9 1.1"/>
<path d="M612.4 212 C618 214.8 622.6 219 626 225.4 L638.4 241.2 C641 245 642 248 641.6 250.6 M628 268.6 L611 286.6 C605.6 292 600 296.4 593.2 300 L580 305.6" stroke="#666" stroke-width="1.8" stroke-dasharray="0.7 1.6"/>
</g>
<circle cx="505.4" cy="193.6" r="4.1" fill="#fff" stroke="#1c1c1c" stroke-width="1.3"/><circle cx="505.4" cy="193.6" r="1.7" fill="#fff" stroke="#1c1c1c" stroke-width="1.4"/>
<circle cx="580.2" cy="208.0" r="4.1" fill="#fff" stroke="#1c1c1c" stroke-width="1.3"/><circle cx="580.2" cy="208.0" r="1.7" fill="#fff" stroke="#1c1c1c" stroke-width="1.4"/>
<circle cx="629.6" cy="260.0" r="4.1" fill="#fff" stroke="#1c1c1c" stroke-width="1.3"/><circle cx="629.6" cy="260.0" r="1.7" fill="#fff" stroke="#1c1c1c" stroke-width="1.4"/>
<circle cx="569.4" cy="303.6" r="4.1" fill="#fff" stroke="#1c1c1c" stroke-width="1.3"/><circle cx="569.4" cy="303.6" r="1.7" fill="#fff" stroke="#1c1c1c" stroke-width="1.4"/>
</svg>
</body></html>
